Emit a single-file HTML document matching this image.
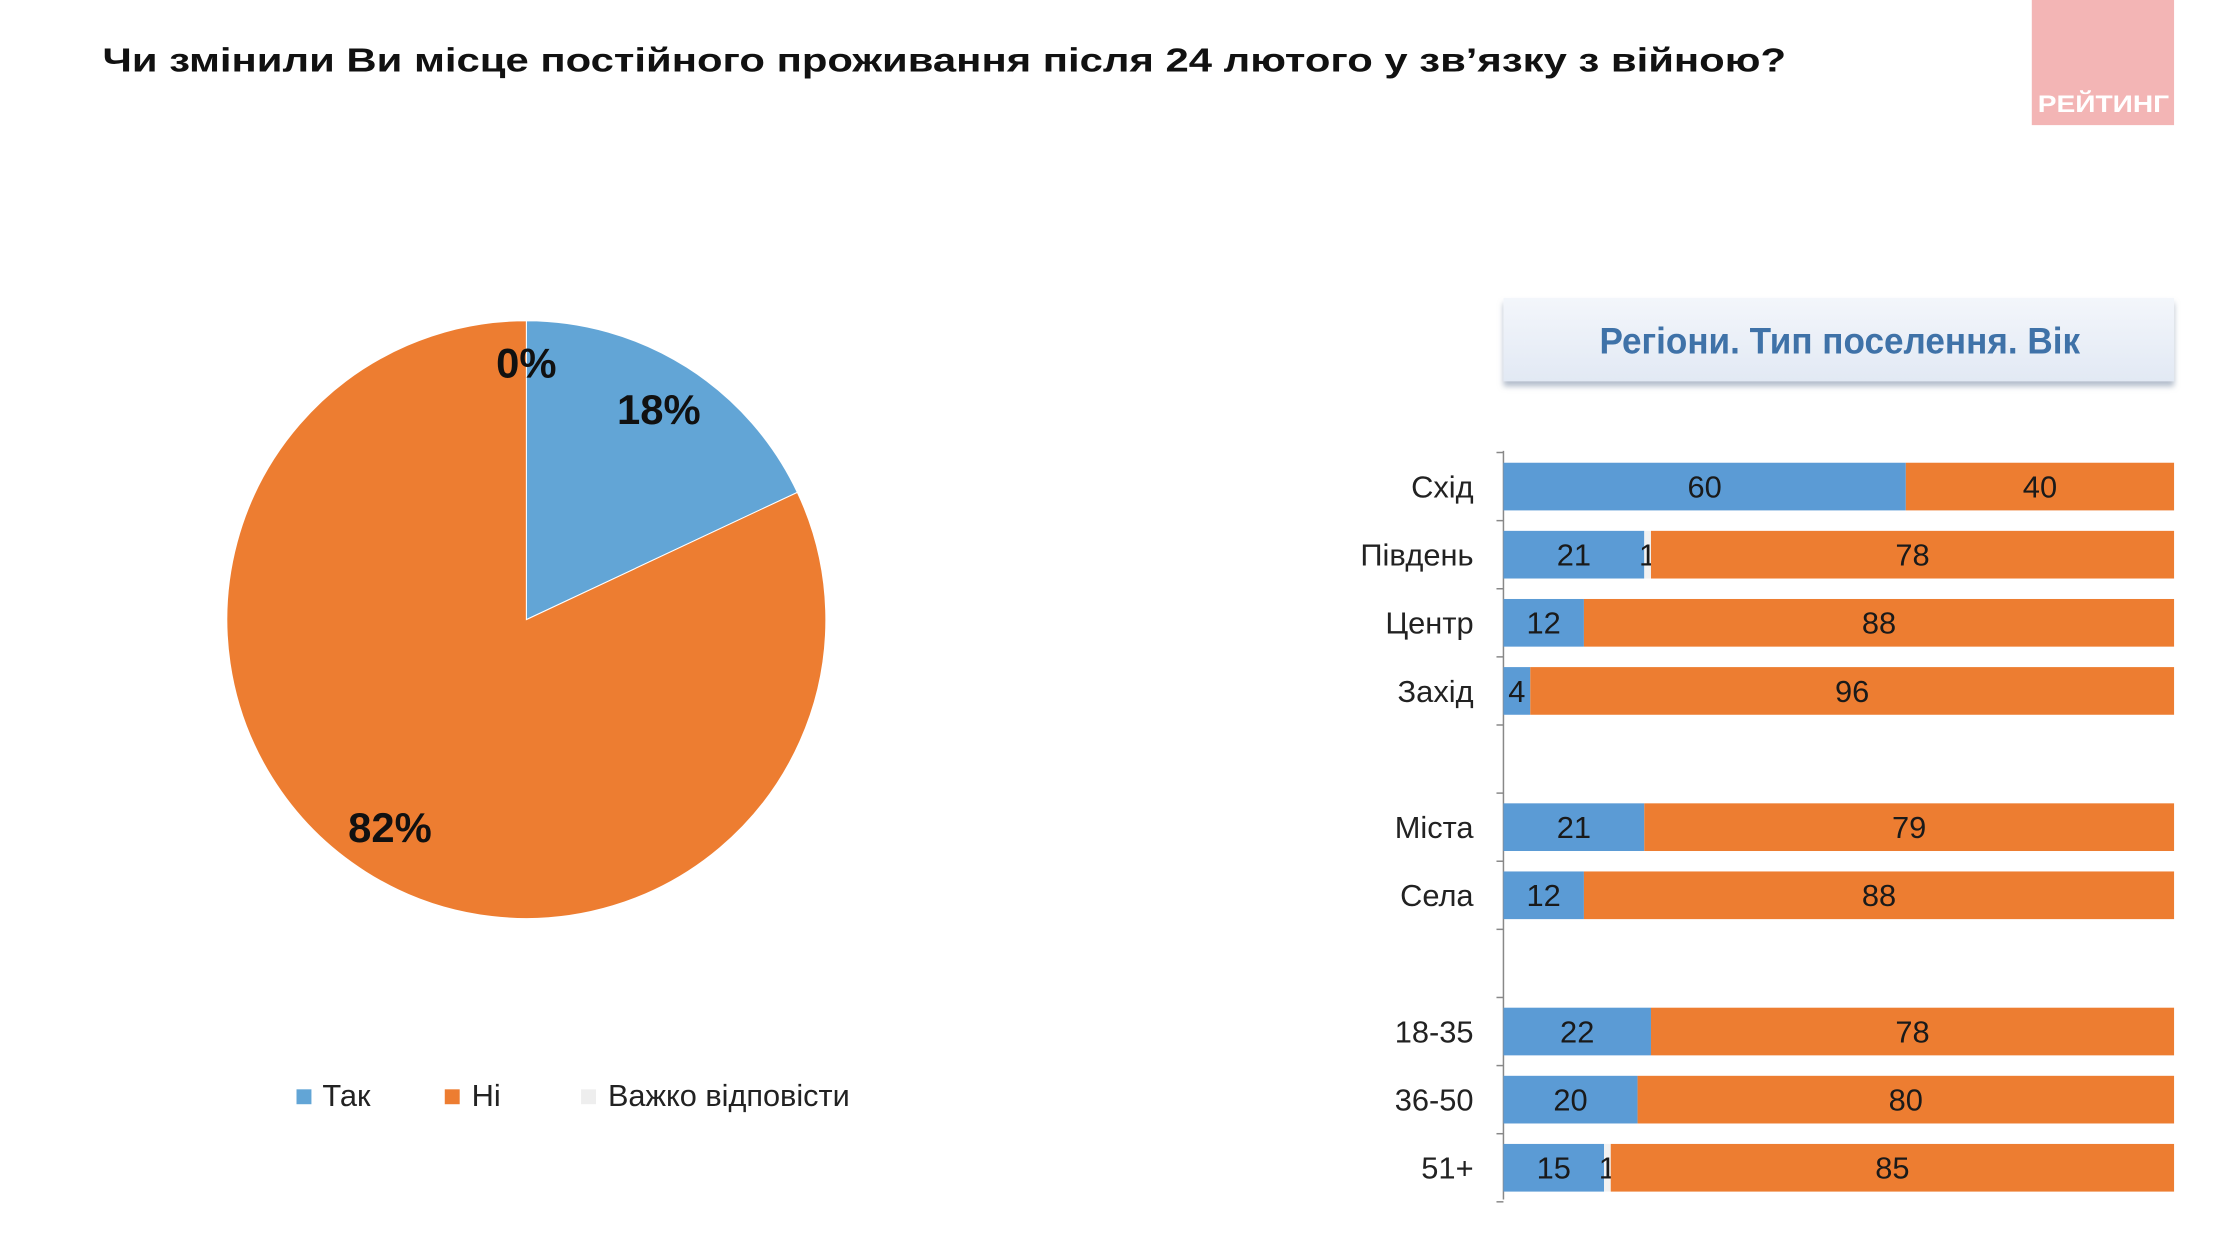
<!DOCTYPE html>
<html><head><meta charset="utf-8"><style>
html,body{margin:0;padding:0;background:#fff;}
svg{display:block;font-family:"Liberation Sans Narrow","Liberation Sans","DejaVu Sans Condensed",sans-serif;}
</style></head><body>
<svg id="s" width="2228" height="1252" viewBox="0 0 2228 1252" xmlns="http://www.w3.org/2000/svg">
<defs>
<linearGradient id="hg" x1="0" y1="0" x2="0" y2="1"><stop offset="0" stop-color="#f3f6fb"/><stop offset="1" stop-color="#e2e9f4"/></linearGradient>
<filter id="sh" x="-5%" y="-20%" width="110%" height="150%"><feDropShadow dx="0" dy="5" stdDeviation="3" flood-color="#8090a8" flood-opacity="0.6"/></filter>
</defs>
<g transform="scale(0.995,0.993)">
<text x="103" y="72" font-size="34" font-weight="bold" fill="#111" textLength="1692" lengthAdjust="spacingAndGlyphs">Чи змінили Ви місце постійного проживання після  24 лютого у зв’язку з війною?</text>
<g>
<rect x="2042" y="0" width="143" height="126" fill="#f3b5b5"/>
<text x="2114" y="113" font-size="24" font-weight="bold" fill="#fff" text-anchor="middle" textLength="132" lengthAdjust="spacingAndGlyphs">РЕЙТИНГ</text>
</g>
<g id="pie"></g>
<g>
<rect x="298" y="1097" width="15" height="15" fill="#62a5d6"/>
<text x="324" y="1114" font-size="31" fill="#222">Так</text>
<rect x="447" y="1097" width="15" height="15" fill="#ed7d31"/>
<text x="474" y="1114" font-size="31" fill="#222">Ні</text>
<rect x="584" y="1097" width="15" height="15" fill="#eeeeee"/>
<text x="611" y="1114" font-size="31" fill="#222" textLength="243" lengthAdjust="spacingAndGlyphs">Важко відповісти</text>
</g>
<g>
<rect x="1511" y="300" width="674" height="84" fill="url(#hg)" filter="url(#sh)"/>
<text x="1849" y="356" font-size="37" font-weight="bold" fill="#3f72a8" text-anchor="middle" textLength="483" lengthAdjust="spacingAndGlyphs">Регіони. Тип поселення. Вік</text>
</g>
<g id="bars"></g>
</g>
</svg>
<script>
const pieLabels = ["Так","Ні","Важко відповісти"];
const pieValues = [18, 82, 0];
const barCategories = ["Схід","Південь","Центр","Захід","","Міста","Села","","18-35","36-50","51+"];
const barYes = [60,21,12,4,null,21,12,null,22,20,15];
const barHard = [0,1,0,0,null,0,0,null,0,0,1];
const barNo = [40,78,88,96,null,79,88,null,78,80,85];

const NS="http://www.w3.org/2000/svg";
function mk(tag, attrs, parent){const e=document.createElementNS(NS,tag);for(const k in attrs)e.setAttribute(k,attrs[k]);parent.appendChild(e);return e;}

// pie
const pie=document.getElementById('pie');
const cx=529, cy=624, r=301;
const pieColors=["#62a5d6","#ed7d31","#eeeeee"];
const total=pieValues.reduce((a,b)=>a+b,0);
function pt(a,rr){return [cx+rr*Math.sin(a), cy-rr*Math.cos(a)];}
let ang=0;
pieValues.forEach((v,i)=>{
  const a0=ang, a1=ang+v/total*2*Math.PI; ang=a1;
  if(v>0){
    const p0=pt(a0,r), p1=pt(a1,r);
    const large=(a1-a0)>Math.PI?1:0;
    const p=mk('path',{d:`M${cx},${cy} L${p0[0]},${p0[1]} A${r},${r} 0 ${large} 1 ${p1[0]},${p1[1]} Z`,fill:pieColors[i],stroke:"#fff","stroke-width":1},pie);
    
    
  }
  const mid=(a0+a1)/2;
  let lp;
  if(v===0){lp=[cx,cy-r+43];}
  else if(mid<Math.PI){lp=pt(mid,r*0.72); lp=[lp[0]+17,lp[1]-28];}
  else {lp=pt(mid,r*0.72); lp=[lp[0]-21,lp[1]+27];}
  const t=mk('text',{x:lp[0],y:lp[1]+14,"font-size":42,"font-weight":"bold",fill:"#111","text-anchor":"middle"},pie);
  t.textContent=v+"%";
  
  
});

// bars
const bars=document.getElementById('bars');
const x0=1511, x1=2185, y0=490, step=68.6, bh=48;
function xs(v){return x0+(x1-x0)*v/100;}
function yc(i){return y0+step*i;}
const ax=mk('line',{x1:x0,y1:454,x2:x0,y2:1208,stroke:"#888","stroke-width":1.5},bars);


for(let i=0;i<=barCategories.length;i++){
  const y=yc(i)-step/2;
  const tk=mk('line',{x1:x0-7,y1:y,x2:x0,y2:y,stroke:"#888","stroke-width":1.5},bars);
  
  
}
barCategories.forEach((c,i)=>{
  if(barYes[i]===null) return;
  const y=yc(i);
  const lab=mk('text',{x:1481,y:y+11,"font-size":31,fill:"#222","text-anchor":"end"},bars);
  lab.textContent=c;
  
  
  const segs=[[barYes[i],"#5b9bd5","bar-yes"],[barHard[i],"#f2f2f2","bar-hard"],[barNo[i],"#ed7d31","bar-no"]];
  let acc=0;
  segs.forEach(([v,col,nm])=>{
    const xa=xs(acc), xb=xs(Math.min(acc+v,100));
    if(v>0){
      const rc=mk('rect',{x:xa,y:y-bh/2,width:Math.max(xb-xa,0),height:bh,fill:col},bars);
      
      
      const tx=mk('text',{x:(xa+xb)/2,y:y+11,"font-size":31,fill:"#1a1a1a","text-anchor":"middle"},bars);
      tx.textContent=v;
      
      
    }
    acc+=v;
  });
});
</script>
</body></html>
